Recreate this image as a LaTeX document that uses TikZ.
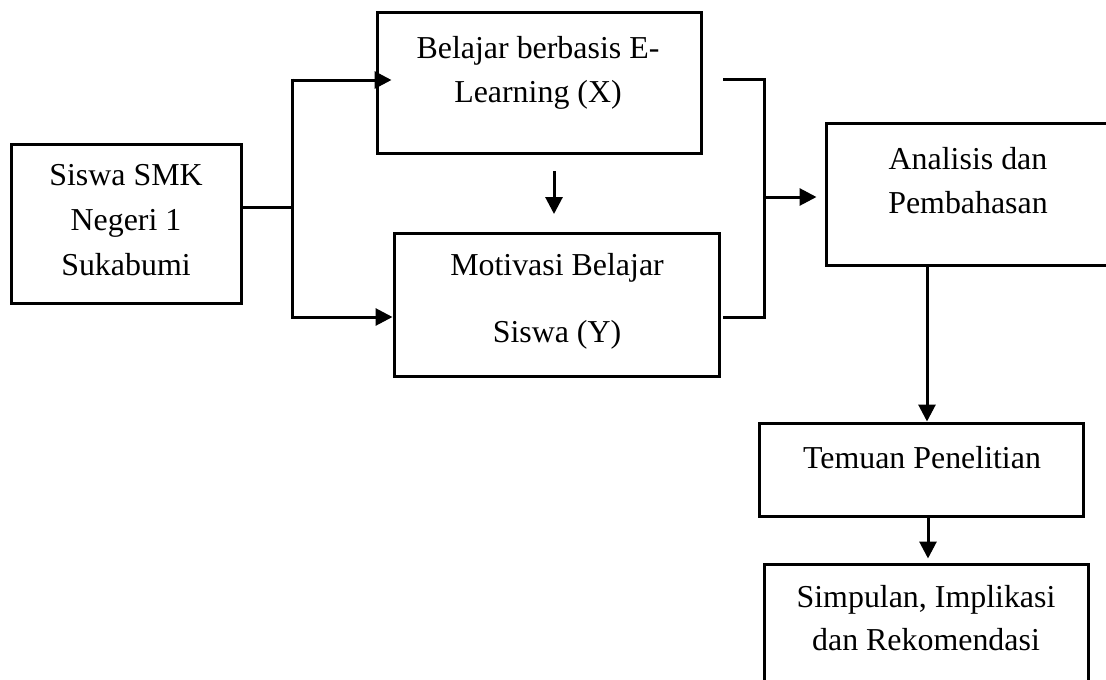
\documentclass[tikz,border=0pt]{standalone}
\usepackage{fontspec}
\setmainfont{Liberation Serif}
\usetikzlibrary{arrows.meta}
\begin{document}
\begin{tikzpicture}[x=1pt,y=-1pt,
  box/.style={draw, line width=3pt, inner sep=0pt},
  txt/.style={anchor=base, inner sep=0pt, font=\fontsize{31.9}{40}\selectfont},
  ln/.style={line width=3pt},
  arr/.style={line width=3pt, -{Triangle[length=17pt,width=17pt]}}]
\useasboundingbox (0,0) rectangle (1106,680);
\clip (0,0) rectangle (1106,680);
% boxes
\node[box, minimum width=230pt, minimum height=159pt] (sis) at (126,223.5) {};
\node[box, minimum width=324pt, minimum height=141pt] (bel) at (539,82.5) {};
\node[box, minimum width=325pt, minimum height=143pt] (mot) at (556.5,304.5) {};
\node[box, minimum width=286pt, minimum height=142pt] (ana) at (969,194) {};
\node[box, minimum width=324pt, minimum height=93pt] (tem) at (921,469.5) {};
\node[box, minimum width=324pt, minimum height=128pt] (sim) at (926,628) {};
% texts
\node[txt] (s1) at (126,185) {Siswa SMK};
\node[txt] (s2) at (126,230) {Negeri 1};
\node[txt] (s3) at (126,275) {Sukabumi};
\node[txt] (b1) at (538,58) {Belajar berbasis E-};
\node[txt] (b2) at (538,102) {Learning (X)};
\node[txt] (m1) at (557,275) {Motivasi Belajar};
\node[txt] (m2) at (557,342) {Siswa (Y)};
\node[txt] (a1) at (968,169) {Analisis dan};
\node[txt] (a2) at (968,213) {Pembahasan};
\node[txt] (t1) at (922,468) {Temuan Penelitian};
\node[txt] (p1) at (926,607) {Simpulan, Implikasi};
\node[txt] (p2) at (926,650) {dan Rekomendasi};
% connectors
\coordinate (ja) at (292,80);
\coordinate (jm) at (292,207);
\coordinate (jb) at (292,317);
\draw[ln] (sis.east |- jm) -- (jm);
\draw[ln] ([yshift=1.5pt]ja) -- ([yshift=-1.5pt]jb);
\draw[arr] (ja) -- ([xshift=16pt]bel.west |- ja);
\draw[arr] (jb) -- (mot.west |- jb);
\coordinate (d1) at (554,171);
\coordinate (d2) at (554,214);
\draw[arr] (d1) -- (d2);
\coordinate (ra) at (723,79);
\coordinate (rb) at (764,79);
\coordinate (rc) at (764,317);
\coordinate (rd) at (723,317);
\coordinate (rm) at (764,197);
\draw[ln, line join=miter] (ra) -- (rb) -- (rc) -- (rd);
\draw[arr] (rm) -- ([xshift=-8pt]ana.west |- rm);
\coordinate (ax) at (927,0);
\draw[arr] (ana.south -| ax) -- (tem.north -| ax);
\coordinate (tx) at (928,0);
\draw[arr] (tem.south -| tx) -- ([yshift=4pt]sim.north -| tx);
\end{tikzpicture}
\end{document}
